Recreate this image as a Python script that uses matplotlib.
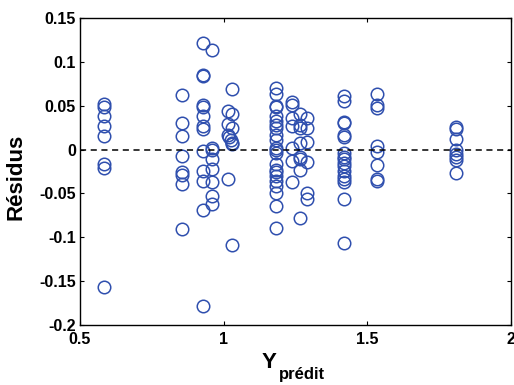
import matplotlib
matplotlib.use("Agg")
import matplotlib.pyplot as plt
import numpy as np

plt.rcParams['font.family'] = ['Liberation Sans', 'DejaVu Sans']

# Predicted values (x) grouped by column, with their residuals (y)
x_pred = (
    [0.584] * 8
    + [0.855] * 8
    + [0.928] * 13
    + [0.958] * 8
    + [1.015, 1.029, 1.015, 1.029, 1.015, 1.020, 1.025, 1.029, 1.029, 1.029, 1.015, 1.029]
    + [1.182] * 22
    + [1.239] * 7
    + [1.266] * 8
    + [1.289] * 6
    + [1.420] * 17
    + [1.534] * 8
    + [1.807] * 8
)
residus = (
    [0.052, 0.048, 0.038, 0.027, 0.015, -0.016, -0.021, -0.157]
    + [0.062, 0.030, 0.016, -0.007, -0.026, -0.029, -0.039, -0.091]
    + [0.121, 0.085, 0.084, 0.051, 0.048, 0.038, 0.027, 0.023, -0.002, -0.024, -0.036, -0.069, -0.178]
    + [0.113, 0.002, 0.000, -0.011, -0.022, -0.037, -0.053, -0.062]
    + [0.044, 0.069, 0.029, 0.041, 0.017, 0.014, 0.011, 0.025, 0.008, 0.006, -0.033, -0.109]
    + [0.070, 0.063, 0.050, 0.049, 0.038, 0.033, 0.028, 0.025, 0.017, 0.011, 0.002, 0.000,
       -0.004, -0.017, -0.023, -0.026, -0.030, -0.036, -0.042, -0.049, -0.064, -0.089]
    + [0.054, 0.051, 0.036, 0.027, 0.002, -0.013, -0.037]
    + [0.040, 0.028, 0.025, 0.008, -0.008, -0.011, -0.023, -0.078]
    + [0.036, 0.025, 0.009, -0.014, -0.049, -0.056]
    + [0.061, 0.055, 0.032, 0.030, 0.017, 0.014, -0.004, -0.008, -0.011, -0.015, -0.019,
       -0.025, -0.030, -0.034, -0.037, -0.056, -0.107]
    + [0.063, 0.051, 0.047, 0.004, -0.003, -0.018, -0.033, -0.036]
    + [0.026, 0.024, 0.012, 0.000, -0.005, -0.008, -0.012, -0.027]
)

x_ticks = [0.5, 1, 1.5, 2]
x_tick_labels = ['0.5', '1', '1.5', '2']
y_ticks = [-0.2, -0.15, -0.1, -0.05, 0, 0.05, 0.1, 0.15]
y_tick_labels = ['-0.2', '-0.15', '-0.1', '-0.05', '0', '0.05', '0.1', '0.15']

W, H = 514, 385
fig = plt.figure(figsize=(W / 100, H / 100), dpi=100)
ax = fig.add_axes([80 / W, 1 - 325 / H, 431 / W, 307 / H])

ax.plot(x_pred, residus, linestyle='none', marker='o', markersize=9,
        markerfacecolor='none', markeredgecolor='#2f4fae', markeredgewidth=1.1)
ax.axhline(0, color='black', linestyle='--', linewidth=1.1, dashes=(4, 3))

ax.set_xlim(0.5, 2)
ax.set_ylim(-0.2, 0.15)
ax.set_xticks(x_ticks)
ax.set_xticklabels(x_tick_labels)
ax.set_yticks(y_ticks)
ax.set_yticklabels(y_tick_labels)
ax.tick_params(direction='in', length=3, width=0.8, top=True, right=True,
               labelsize=11.5)
ax.tick_params(axis='y', pad=3)
ax.tick_params(axis='x', pad=5)
for lbl in ax.get_xticklabels() + ax.get_yticklabels():
    lbl.set_fontweight('bold')
for s in ax.spines.values():
    s.set_linewidth(1.0)

ax.set_ylabel('Résidus', fontsize=16, fontweight='bold')
ax.yaxis.set_label_coords((27 - 80) / 431, (325 - 177) / 307)

fig.text(262 / W, 1 - 368 / H, 'Y', fontsize=16, fontweight='bold',
         ha='left', va='baseline')
fig.text(279 / W, 1 - 378.5 / H, 'prédit', fontsize=12, fontweight='bold',
         ha='left', va='baseline')

fig.savefig('out.png', dpi=100)
